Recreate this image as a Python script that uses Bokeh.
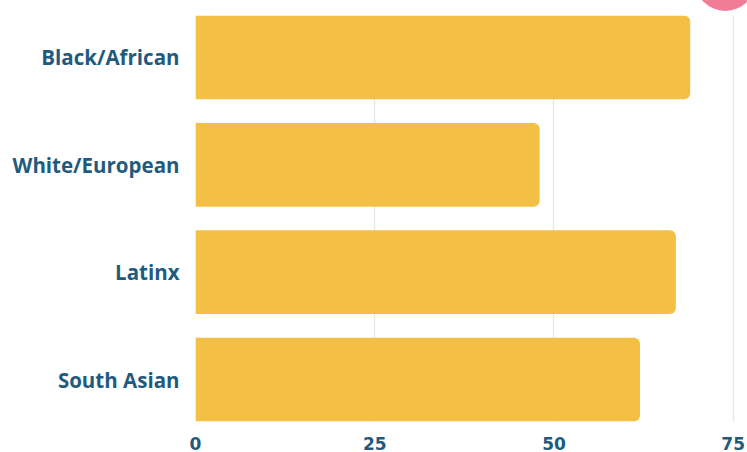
from bokeh.plotting import figure
from bokeh.models import Range1d, FixedTicker
from bokeh.embed import file_html
from bokeh.resources import INLINE

categories = ["Black/African", "White/European", "Latinx", "South Asian"]
values = [69, 48, 67, 62]
x_ticks = [0, 25, 50, 75]

ypos = [len(categories) - 1 - i for i in range(len(categories))]

TEXT = "#1F5B7E"
BAR = "#F4BF45"
PINK = "#F07D95"

p = figure(width=747, height=452, output_backend="svg", toolbar_location=None,
           x_range=Range1d(0, 75.6), y_range=Range1d(-0.39, 3.39),
           min_border_left=195, min_border_right=10, min_border_top=15,
           min_border_bottom=31, background_fill_color="white",
           border_fill_color="white")
p.outline_line_color = None

p.hbar(y=ypos, right=values, left=0, height=0.78, fill_color=BAR,
       line_color=None, border_radius=(0, 6, 6, 0))

# decorative pink circle at the top right (outside the frame)
p.circle(x=[73.9], y=[3.72], radius=4.3, fill_color=PINK, line_color=None,
         level="overlay")

p.xgrid.ticker = FixedTicker(ticks=x_ticks[1:])
p.xgrid.grid_line_color = "#E2E8EE"
p.xgrid.grid_line_width = 1.5
p.ygrid.grid_line_color = None

p.xaxis.ticker = FixedTicker(ticks=x_ticks)
p.xaxis.axis_line_color = None
p.xaxis.major_tick_line_color = None
p.xaxis.minor_tick_line_color = None
p.xaxis.major_label_text_font = "DejaVu Sans"
p.xaxis.major_label_text_font_style = "bold"
p.xaxis.major_label_text_font_size = "17px"
p.xaxis.major_label_text_color = TEXT
p.xaxis.major_label_standoff = 9

p.yaxis.ticker = FixedTicker(ticks=ypos)
p.yaxis.major_label_overrides = {y: c for y, c in zip(ypos, categories)}
p.yaxis.axis_line_color = None
p.yaxis.major_tick_line_color = None
p.yaxis.minor_tick_line_color = None
p.yaxis.major_label_text_font = "Open Sans"
p.yaxis.major_label_text_font_style = "bold"
p.yaxis.major_label_text_font_size = "20.5px"
p.yaxis.major_label_text_color = TEXT
p.yaxis.major_label_standoff = 10

open("out.html", "w").write(file_html(p, INLINE))
